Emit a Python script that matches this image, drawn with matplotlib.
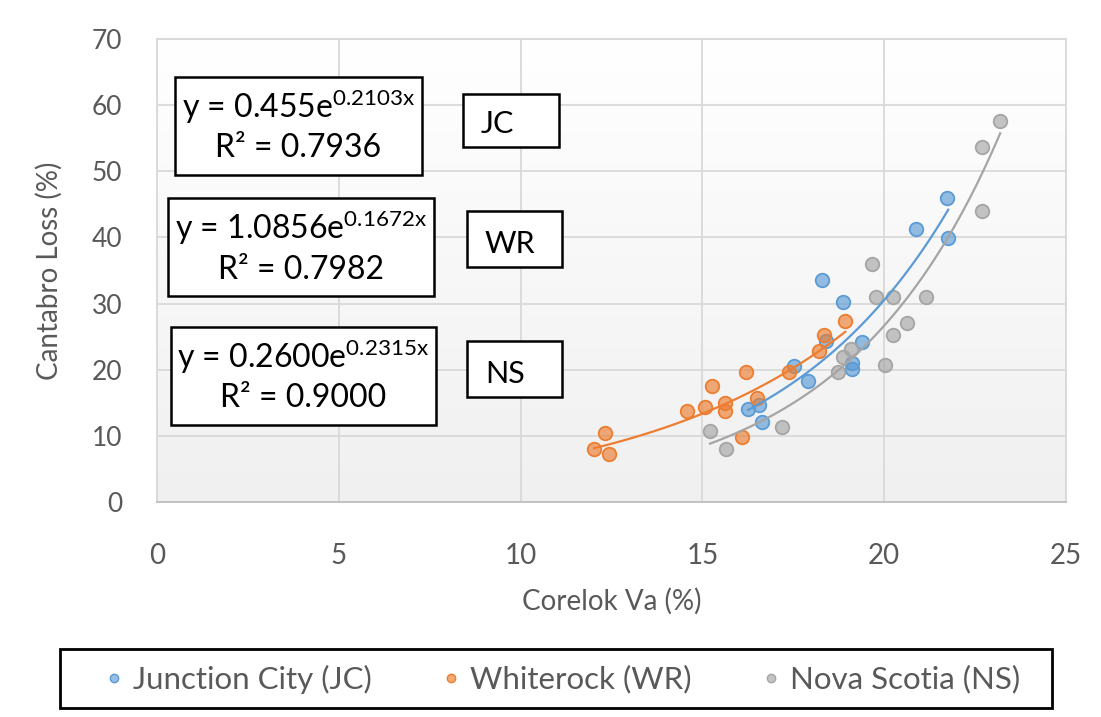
import numpy as np
import matplotlib
matplotlib.use('Agg')
import matplotlib.pyplot as plt
from matplotlib.patches import Rectangle
from matplotlib.lines import Line2D
from matplotlib.colors import to_rgba

plt.rcParams['font.family'] = ['Lato', 'DejaVu Sans']
plt.rcParams['mathtext.fontset'] = 'custom'
plt.rcParams['mathtext.rm'] = 'Lato'
plt.rcParams['mathtext.it'] = 'Lato'

# Data
jc_x = [16.26, 16.56, 16.63, 17.52, 17.90, 18.30, 18.39, 18.88, 19.11, 19.12, 19.40, 20.87, 21.72, 21.76]
jc_y = [13.99, 14.64, 12.02, 20.59, 18.27, 33.56, 24.37, 30.18, 21.04, 20.09, 24.22, 41.24, 45.93, 39.87]

wr_x = [12.02, 12.32, 12.44, 14.57, 15.08, 15.26, 15.62, 15.62, 16.20, 16.10, 16.49, 17.39, 18.21, 18.35, 18.93]
wr_y = [7.93, 10.35, 7.18, 13.74, 14.38, 17.56, 14.99, 13.74, 19.68, 9.75, 15.74, 19.68, 22.86, 25.23, 27.31]

ns_x = [15.21, 15.65, 17.20, 18.74, 18.88, 19.09, 19.66, 19.78, 20.02, 20.24, 20.24, 20.63, 21.14, 22.68, 22.68, 23.19]
ns_y = [10.70, 8.02, 11.35, 19.68, 21.86, 23.07, 35.94, 31.03, 20.69, 31.03, 25.19, 27.00, 31.03, 53.65, 44.05, 57.67]

# trendline coefficients shown on the chart: y = a * exp(b * x)
fits = {'JC': (0.455, 0.2103, 0.7936),
        'WR': (1.0856, 0.1672, 0.7982),
        'NS': (0.2600, 0.2315, 0.9000)}

series = [
    ('Junction City (JC)', 'JC', jc_x, jc_y, '#5B9BD5'),
    ('Whiterock (WR)', 'WR', wr_x, wr_y, '#ED7D31'),
    ('Nova Scotia (NS)', 'NS', ns_x, ns_y, '#A5A5A5'),
]

W, H = 1101, 717
fig = plt.figure(figsize=(W / 100, H / 100), dpi=100)
ax = fig.add_axes([157 / W, 1 - 501.7 / H, (1066 - 157) / W, (501.7 - 39.3) / H])

# light vertical gradient in the plot area
grad = np.linspace(0, 1, 256).reshape(-1, 1)
ax.imshow(grad, extent=[0, 25, 0, 70], aspect='auto', origin='upper',
          cmap=matplotlib.colors.LinearSegmentedColormap.from_list('bg', ['#FFFFFF', '#F0F0F0']),
          zorder=0)

ax.set_xlim(0, 25)
ax.set_ylim(0, 70)
ax.set_xticks(range(0, 26, 5))
ax.set_yticks(range(0, 71, 10))
ax.set_axisbelow(True)
ax.grid(True, color='#D9D9D9', linewidth=1.3)
for sp in ax.spines.values():
    sp.set_color('#D9D9D9')
    sp.set_linewidth(1.3)
ax.spines['bottom'].set_color('#BFBFBF')
ax.tick_params(length=0, colors='#595959')
ax.tick_params(axis='y', labelsize=19, pad=25)
ax.tick_params(axis='x', labelsize=20, pad=30)

ax.set_xlabel('Corelok Va (%)', fontsize=20, color='#595959')
ax.set_ylabel('Cantabro Loss (%)', fontsize=20, color='#595959')
ax.xaxis.set_label_coords(0.5, -0.215)
ax.yaxis.set_label_coords(-0.118, 0.5)
ax.xaxis.label.set_va('center')
ax.yaxis.label.set_va('center')

handles = []
for name, key, xs, ys, col in series:
    a, b, r2 = fits[key]
    ax.scatter(xs, ys, s=95, facecolor=to_rgba(col, 0.65), edgecolor=col,
               linewidth=1.3, zorder=3)
    xx = np.linspace(min(xs), max(xs), 100)
    ax.plot(xx, a * np.exp(b * xx), color=col, linewidth=1.6, zorder=4)
    handles.append(Line2D([], [], linestyle='none', marker='o', markersize=6,
                          markerfacecolor=to_rgba(col, 0.65), markeredgecolor=col,
                          markeredgewidth=1, label=name))


def box(x0, y0, x1, y1, lw=1.8):
    fig.patches.append(Rectangle((x0 / W, 1 - y1 / H), (x1 - x0) / W, (y1 - y0) / H,
                                 transform=fig.transFigure, facecolor='white',
                                 edgecolor='black', linewidth=lw, zorder=5))


# equation boxes
eq_boxes = [
    ('JC', (175, 77, 422, 175), 107, 148, '0.455', '0.2103'),
    ('WR', (168, 198, 434, 296), 228, 270, '1.0856', '0.1672'),
    ('NS', (171, 327, 436, 425), 357, 398, '0.2600', '0.2315'),
]
for key, (x0, y0, x1, y1), ty1, ty2, a_txt, b_txt in eq_boxes:
    box(x0, y0, x1, y1)
    cx = (x0 + x1) / 2 / W
    fig.text(cx, 1 - ty1 / H, 'y = ' + a_txt + 'e$^{' + b_txt + 'x}$',
             ha='center', va='center', fontsize=23, color='black', zorder=6)
    fig.text(cx, 1 - ty2 / H, 'R² = %.4f' % fits[key][2],
             ha='center', va='center', fontsize=23, color='black', zorder=6)

# site label boxes
label_boxes = [('JC', (463, 94, 559, 147), 481, 124),
               ('WR', (467, 211, 562, 267), 485, 244),
               ('NS', (467, 341, 562, 397), 485, 374)]
for txt, (x0, y0, x1, y1), tx, ty in label_boxes:
    box(x0, y0, x1, y1)
    fig.text(tx / W, 1 - ty / H, txt, ha='left', va='center', fontsize=22,
             color='black', zorder=6)

# legend with a black frame
box(60, 649, 1052, 708, lw=2)
leg = fig.legend(handles=handles, loc='center', ncol=3,
                 bbox_to_anchor=(560 / W, 1 - 679 / H), frameon=False,
                 fontsize=22.5, handletextpad=0.15, columnspacing=2.1,
                 handlelength=0.9)
for t in leg.get_texts():
    t.set_color('#595959')
leg.set_zorder(7)

fig.savefig('out.png', dpi=100)
